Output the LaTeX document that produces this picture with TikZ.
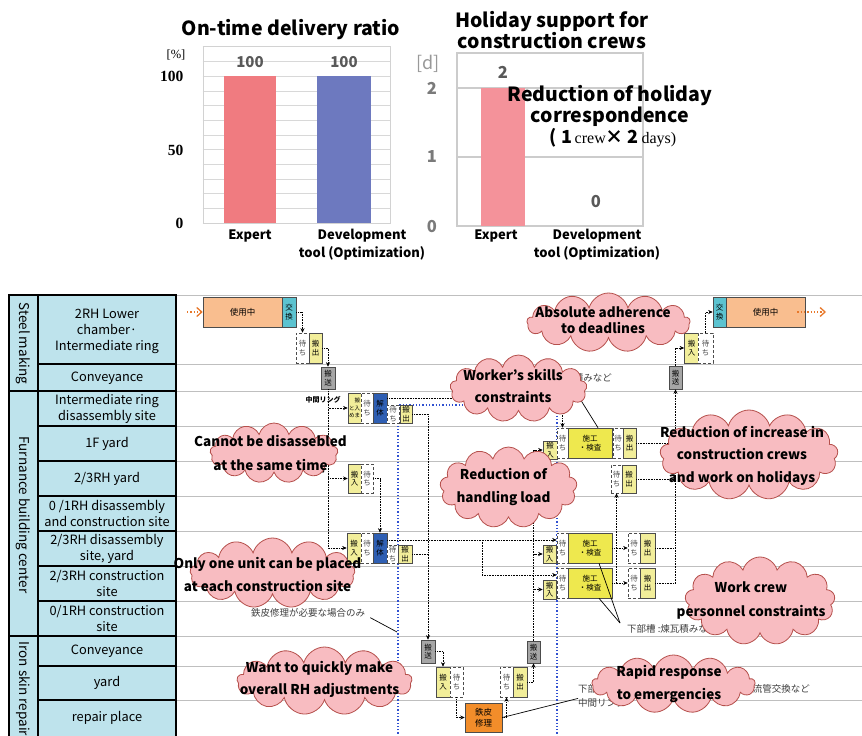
\documentclass[tikz,border=0pt]{standalone}
\usepackage{fontspec}
\setmainfont{Noto Sans CJK JP}
\newfontfamily\serif{Liberation Serif}
\usepackage{tikz}
\usetikzlibrary{arrows.meta,shapes.symbols}
\definecolor{pyel}{HTML}{F2EE9A}
\definecolor{wyel}{HTML}{EEE84E}
\definecolor{dblue}{HTML}{2F5FB3}
\definecolor{cyn}{HTML}{5CC3D0}
\definecolor{org}{HTML}{F9BE8F}
\definecolor{rorg}{HTML}{F28D2A}
\definecolor{tblue}{HTML}{BEE3EC}
\definecolor{cpink}{HTML}{F8BCC1}
\definecolor{cline}{HTML}{B5504C}
\definecolor{bred}{HTML}{F07B80}
\definecolor{bpink}{HTML}{F4929A}
\definecolor{bblue}{HTML}{6D79BF}
\definecolor{gline}{HTML}{BFBFBF}
\definecolor{ttxt}{HTML}{595959}
\definecolor{arr}{HTML}{E8782A}
\definecolor{vblue}{HTML}{3050D0}
\begin{document}
\begin{tikzpicture}[x=1pt,y=-1pt,>={Stealth[length=4.5pt,width=4pt]},
    wh/.style 2 args={minimum width=#1pt, minimum height=#2pt},
    box/.style={draw=black!70, line width=0.6pt, inner sep=0pt, align=center,
      font=\fontsize{7.5}{8.5}\selectfont},
    mv/.style={box, fill=pyel},
    wt/.style={box, dash pattern=on 3pt off 2pt, fill=white, text=black!70},
    cv/.style={box, fill=black!35},
    wk/.style={box, fill=wyel},
    ds/.style={box, fill=dblue},
    xc/.style={box, fill=cyn},
    us/.style={box, fill=org, font=\fontsize{8.5}{10}\selectfont},
    rp/.style={box, fill=rorg, font=\fontsize{8.5}{11}\selectfont},
    link/.style={densely dotted, line width=0.6pt},
    flow/.style={link, ->},
    oflow/.style={arr, dotted, line width=1.3pt, -{Straight Barb[length=5pt,width=9pt]}},
    lbl/.style={font=\bfseries\fontsize{7}{8}\selectfont, inner sep=0pt},
    note/.style={font=\fontsize{9.5}{14}\selectfont, text=black!75, inner sep=0pt, align=left},
    ttl/.style={font=\bfseries\fontsize{19.5}{21}\selectfont, align=center},
    xl/.style={font=\bfseries\fontsize{13}{18}\selectfont, align=center},
    dl/.style={font=\bfseries\fontsize{15}{17}\selectfont, text=ttxt},
    ax/.style={font=\serif\bfseries\fontsize{15.5}{17}\selectfont, anchor=east},
    gx/.style={font=\bfseries\fontsize{16.5}{18}\selectfont, text=ttxt!80},
    rl/.style={font=\fontsize{12.8}{16}\selectfont, align=center},
    gl/.style={font=\fontsize{13.5}{15}\selectfont, rotate=-90, anchor=west},
    cld/.style={cloud, cloud puffs=13, cloud ignores aspect, draw=cline,
      fill=cpink, line width=0.8pt, inner sep=0pt},
    ct/.style={font=\bfseries\fontsize{13.5}{#1}\selectfont, align=center},
  ]
  \useasboundingbox[fill=white] (0,0) rectangle (862,736);

  % on-time delivery chart
  \foreach \v in {0,10,...,120}
    \draw[gline!60] (202.7,{223-1.47*\v}) -- (390,{223-1.47*\v});
  \draw[gline!70] (202.7,46.6) rectangle (390,223);
  \fill[bred] (224,76) rectangle (276,223);
  \fill[bblue] (317,76) rectangle (371,223);
  \node[ttl] (t1) at (291,30) {On-time delivery ratio};
  \node[font=\serif\fontsize{12.5}{14}\selectfont] (pc) at (176,55) {[\%]};
  \node[ax] (a100) at (187,76) {100};
  \node[ax] (a50) at (187,150) {50};
  \node[ax] (a0) at (187,223) {0};
  \node[dl] (v1) at (250,62) {100};
  \node[dl] (v2) at (344,62) {100};
  \node[xl] (x1) at (250,236) {Expert};
  \node[xl] (x2) at (362,245) {Development\\tool (Optimization)};

  % holiday support chart
  \draw[gline!80, line width=1.5pt] (457,53) rectangle (643,226);
  \draw[gline!80, line width=1.5pt] (457,88) -- (643,88) (457,157) -- (643,157);
  \fill[bpink] (481,88) rectangle (525,226);
  \node[ttl] (t2) at (552,30) {Holiday support for\\construction crews};
  \node[font=\fontsize{18}{20}\selectfont, text=black!40] (dd) at (428,64) {[d]};
  \node[gx] (b2) at (432,88) {2};
  \node[gx] (b1) at (432,157) {1};
  \node[gx] (b0) at (432,227) {0};
  \node[dl, font=\bfseries\fontsize{16.5}{18}\selectfont] (w1) at (503,72) {2};
  \node[dl, font=\bfseries\fontsize{16.5}{18}\selectfont] (w2) at (596,202) {0};
  \node[xl] (x3) at (496,236) {Expert};
  \node[xl] (x4) at (597,245) {Development\\tool (Optimization)};
  \node[ttl] (hr) at (610,105.5) {Reduction of holiday\\correspondence};
  \node[font=\bfseries\fontsize{18}{20}\selectfont] (hd) at (613,138)
    {( 1{\serif\mdseries\fontsize{16}{18}\selectfont\,crew}× 2{\serif\mdseries\fontsize{16}{18}\selectfont\,days)}};

  % table on the left
  \fill[tblue] (9,295) rectangle (176,737);
  \foreach \y in {295,364,391,426,461,496,531,566,601,636,666,700}
    \draw[gline, line width=1pt] (176,\y) -- (862,\y);
  \foreach \y in {364,391,426,461,496,531,566,601,636,666,700}
    \draw[line width=1.6pt] (38,\y) -- (176,\y);
  \draw[line width=1.6pt] (9,391) -- (38,391) (9,636) -- (38,636);
  \draw[line width=1.6pt] (9,295) rectangle (176,738) (38,295) -- (38,738);
  \node[gl] (g1) at (23,299) {Steel making};
  \node[gl] (g2) at (23,433) {Furnance building center};
  \node[gl] (g3) at (23,638) {Iron skin repair};
  \node[rl] (r1) at (107,331) {2RH Lower\\chamber·\\Intermediate ring};
  \node[rl] (r2) at (107,378) {Conveyance};
  \node[rl] (r3) at (107,408.5) {Intermediate ring\\disassembly site};
  \node[rl] (r4) at (107,443.5) {1F yard};
  \node[rl] (r5) at (107,478.5) {2/3RH yard};
  \node[rl] (r6) at (107,513.5) {0 /1RH disassembly\\and construction site};
  \node[rl] (r7) at (107,548.5) {2/3RH disassembly\\site, yard};
  \node[rl] (r8) at (107,583.5) {2/3RH construction\\site};
  \node[rl] (r9) at (107,618.5) {0/1RH construction\\site};
  \node[rl] (r10) at (107,651) {Conveyance};
  \node[rl] (r11) at (107,683) {yard};
  \node[rl] (r12) at (107,718) {repair place};

  % blue limits
  \draw[vblue, dotted, line width=1.3pt] (398,737) -- (398,405) -- (557,405) -- (557,737);

  % steel making
  \node[us, wh={79}{30}] (us1) at (242.5,312) {使用中};
  \node[xc, wh={14}{30}] (xc1) at (289,312) {交\\換};
  \node[wt, wh={13}{30}] (wt1) at (302.5,348) {待\\ち};
  \node[mv, wh={13}{30}] (mo1) at (315.5,348) {搬\\出};
  \node[cv, wh={14}{22}] (cv1) at (328,378) {搬\\送};
  \node[mv, wh={14}{30}] (in2) at (691.5,348) {搬\\入};
  \node[wt, wh={15}{30}] (wt2) at (705.5,348) {待\\ち};
  \node[xc, wh={13}{30}] (xc2) at (719.5,312) {交\\換};
  \node[us, wh={79}{30}] (us2) at (765.5,312) {使用中};
  \node[cv, wh={13}{23}] (cv2) at (675.5,377.5) {搬\\送};

  % intermediate ring
  \node[lbl] (lr) at (323,400) {中間リング};
  \node[mv, wh={13}{30}, font=\fontsize{5.5}{6.5}\selectfont] (in3) at (354.5,408)
    {\shortstack{と\\め}\shortstack{搬\\入\\ま}};
  \node[wt, wh={12}{30}] (wt3) at (367,408) {待\\ち};
  \node[ds, wh={14}{30}] (ds3) at (380,408) {解\\体};
  \node[wt, wh={12}{18}] (wt3b) at (393,414) {待\\ち};
  \node[mv, wh={12}{18}] (mo3) at (406,414) {搬\\出};

  % 1F yard
  \node[mv, wh={14}{18}] (in4) at (550,450) {搬\\入};
  \node[wt, wh={11}{30}] (wt4) at (562.5,443) {待\\ち};
  \node[wk, wh={44}{30}] (wk4) at (590,443) {施工\\・検査};
  \node[wt, wh={10}{30}] (wt4b) at (618,443) {待\\ち};
  \node[mv, wh={13}{30}] (mo4) at (629.5,443) {搬\\出};

  % 2/3RH yard
  \node[lbl] (lb) at (318,470) {部材};
  \node[mv, wh={13}{29}] (in5) at (354.5,478.5) {搬\\入};
  \node[wt, wh={12}{29}] (wt5a) at (367,478.5) {待\\ち};
  \node[wt, wh={11}{28}] (wt5) at (616.5,479) {待\\ち};
  \node[mv, wh={14}{28}] (mo5) at (629,479) {搬\\出};

  % 2/3RH disassembly site
  \node[mv, wh={14}{30}] (in7) at (354,548) {搬\\入};
  \node[wt, wh={12}{30}] (wt7a) at (367,548) {待\\ち};
  \node[ds, wh={14}{30}] (ds7) at (380,548) {解\\体};
  \node[wt, wh={11}{18}] (wt7b) at (392.5,554) {待\\ち};
  \node[mv, wh={14}{18}] (mo7a) at (405,554) {搬\\出};
  \node[mv, wh={13}{18}] (in7b) at (549.5,554) {搬\\入};
  \node[wt, wh={11}{30}] (wt7) at (562.5,548) {待\\ち};
  \node[wk, wh={44}{30}] (wk7) at (590,548) {施工\\・検査};
  \node[wt, wh={12}{30}] (wt7c) at (634,548) {待\\ち};
  \node[mv, wh={15}{30}] (mo7) at (647.5,548) {搬\\出};

  % 2/3RH construction site
  \node[mv, wh={13}{19}] (in8) at (549.5,589.5) {搬\\入};
  \node[wt, wh={11}{30}] (wt8) at (562.5,583) {待\\ち};
  \node[wk, wh={44}{30}] (wk8) at (590,583) {施工\\・検査};
  \node[wt, wh={12}{30}] (wt8c) at (634,583) {待\\ち};
  \node[mv, wh={15}{30}] (mo8) at (647.5,583) {搬\\出};

  % iron skin repair
  \node[cv, wh={14}{23}] (cv10) at (428,651.5) {搬\\送};
  \node[mv, wh={14}{30}] (in11) at (443,682) {搬\\入};
  \node[wt, wh={13}{30}] (wt11) at (456.5,682) {待\\ち};
  \node[rp, wh={37}{29}] (rp) at (483.5,717.5) {鉄皮\\修理};
  \node[wt, wh={13}{30}] (wt11b) at (506.5,682) {待\\ち};
  \node[mv, wh={14}{30}] (mo11) at (520,682) {搬\\出};
  \node[cv, wh={13}{22}] (cv11) at (533.5,652) {搬\\送};

  % flows
  \coordinate (oa) at (187,312);
  \coordinate (ob) at (826,312);
  \draw[oflow] (oa) -- (us1.west);
  \draw[oflow] ([xshift=-8pt]us2.east) -- (ob);
  \draw[flow] (xc1.east) -| (wt1.north);
  \draw[flow] (mo1.east) -| (cv1.north);
  \draw[flow] (cv1.south) |- (in3.west);
  \draw[flow] (cv1.south) |- (in5.west);
  \draw[flow] (cv1.south) |- (in7.west);
  \draw[flow] ([yshift=10pt]ds3.east) -| (wt4.north);
  \draw[flow] (mo3.east) -| (cv10.north);
  \draw[flow] (wt5a.east) -| (ds7.north);
  \draw[flow] ([yshift=8pt]ds7.east) -- ([yshift=8pt]wt7.west);
  \coordinate (sp) at (482,540);
  \draw[flow] (sp) |- ([yshift=8pt]wt8.west);
  \draw[link] (mo7a.east) -- (mo7a.east -| cv10.north);
  \draw[flow] (cv11.north) |- (in4.west);
  \draw[flow] (cv11.north) |- (in7b.west);
  \draw[flow] (cv11.north) |- (in8.west);
  \draw[flow] (wk7.east) -- (wt7c.west);
  \draw[flow] (wk8.east) -- (wt8c.west);
  \draw[flow] (wk8.east) -| (wt5.south);
  \draw[link] (mo4.east) -- (mo4.east -| cv2.south);
  \draw[link] (mo5.east) -- (mo5.east -| cv2.south);
  \draw[link] (mo7.east) -- (mo7.east -| cv2.south);
  \draw[flow] (mo8.east) -| (cv2.south);
  \draw[flow] (cv2.north) |- (in2.west);
  \draw[flow] (wt2.north) |- (xc2.west);
  \draw[flow] (cv10.east) -| (in11.north);
  \draw[flow] (wt11.south) |- (rp.west);
  \draw[flow] (rp.east) -| (wt11b.south);
  \draw[flow] (mo11.east) -| (cv11.south);

  % notes
  \node[note] (n1) at (308,613) {鉄皮修理が必要な場合のみ};
  \coordinate (n1e) at (397,632);
  \draw[line width=0.7pt] ([xshift=5pt]n1.south east) -- (n1e);
  \node[note, anchor=west] (n2) at (627,629) {下部槽 :煉瓦積みなど};
  \draw[line width=0.7pt] ([shift={(-7pt,6pt)}]n2.west) -- ([xshift=9pt]wk7.south);
  \draw[line width=0.7pt] ([shift={(-7pt,6pt)}]n2.west) -- ([xshift=9pt]wk8.south);
  \node[note, anchor=east] (n3) at (612,378) {積みなど};
  \coordinate (n3c) at (572,386);
  \draw[line width=0.7pt] (n3c) -- ([xshift=8pt]wk4.north);
  \node[note, anchor=west] (n4) at (578,689) {下部};
  \node[note, anchor=east] (n4b) at (810,689) {流管交換など};
  \node[note, anchor=west] (n4c) at (578,703) {中間リング};
  \draw[line width=0.7pt] (rp.east) -- (n4c.north west);

  % clouds
  \node[cld, wh={163}{59}] (c1) at (608.5,322.5) {};
  \node[cld, wh={137}{67}] (c2) at (518.5,388.5) {};
  \node[cld, wh={128}{60}] (c3) at (274,453) {};
  \node[cld, wh={137}{81}] (c4) at (508.5,487.5) {};
  \node[cld, wh={178}{90}] (c5) at (749,455) {};
  \node[cld, wh={165}{70}] (c6) at (272.5,573) {};
  \node[cld, wh={150}{88}] (c7) at (760,601) {};
  \node[cld, wh={175}{68}] (c8) at (324.5,681) {};
  \node[cld, wh={163}{58}] (c9) at (673.5,684) {};
  \node[ct=16] (c1t) at (603,320.5) {Absolute adherence\\to deadlines};
  \node[ct=22] (c2t) at (513,386) {Worker's skills\\constraints};
  \node[ct=24] (c3t) at (270.5,453) {Cannot be disassebled\\at the same time};
  \node[ct=23] (c4t) at (503.5,486.5) {Reduction of\\handling load};
  \node[ct=22.5] (c5t) at (742,455.5) {Reduction of increase in\\construction crews\\and work on holidays};
  \node[ct=23] (c6t) at (267.5,574.5) {Only one unit can be placed\\at each construction site};
  \node[ct=24] (c7t) at (751,600) {Work crew\\personnel constraints};
  \node[ct=22] (c8t) at (319.5,679) {Want to quickly make\\overall RH adjustments};
  \node[ct=23] (c9t) at (669,683.5) {Rapid response\\to emergencies};
\end{tikzpicture}
\end{document}
